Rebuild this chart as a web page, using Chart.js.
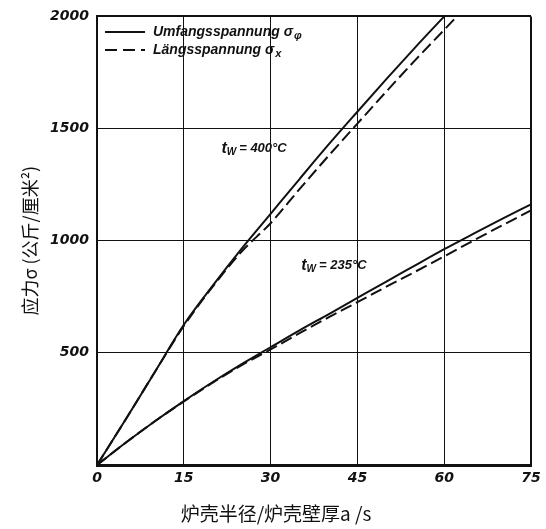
<!DOCTYPE html>
<html><head><meta charset="utf-8">
<script src="https://cdn.jsdelivr.net/npm/chart.js@4"></script>
<style>html,body{margin:0;padding:0;background:#fff}#wrap{width:546px;height:529px}</style>
</head><body><div id="wrap"><canvas id="c" width="546" height="529"></canvas></div>
<script>
// ---- data ----
const xTicks = [0, 15, 30, 45, 60, 75];
const yTicks = [0, 500, 1000, 1500, 2000];

const x400Solid = [0, 5, 10, 15, 20, 25, 30, 35, 40, 45, 50, 55, 60];
const y400Solid = [0, 205, 415, 625, 800, 965, 1120, 1275, 1428, 1575, 1720, 1862, 2000];

const x400Dashed = [0, 5, 10, 15, 20, 25, 30, 35, 40, 45, 50, 55, 60, 62.2];
const y400Dashed = [0, 205, 415, 620, 795, 952, 1078, 1230, 1378, 1522, 1665, 1805, 1940, 2000];

const x235Solid = [0, 5, 10, 15, 20, 25, 30, 35, 40, 45, 50, 55, 60, 65, 70, 75];
const y235Solid = [0, 100, 195, 285, 370, 450, 525, 600, 672, 745, 818, 890, 962, 1030, 1097, 1162];

const x235Dashed = [0, 5, 10, 15, 20, 25, 30, 35, 40, 45, 50, 55, 60, 65, 70, 75];
const y235Dashed = [0, 100, 195, 283, 367, 445, 515, 588, 658, 726, 795, 862, 930, 1000, 1068, 1135];

const seriesNames = ['Umfangsspannung σ', 'Längsspannung σ'];
const seriesSubs = ['φ', 'x'];
const curveTemps = ['400°C', '235°C'];
const curveLabelAt = [[21.5, 1410], [35.3, 890]];

const xTitle = '炉壳半径/炉壳壁厚a /s';
const yTitle = '应力σ (公斤/厘米²)';

const toPts = (xs, ys) => xs.map((x, i) => ({x, y: ys[i]}));
const INK = '#111';
const tickFont = {family: '"DejaVu Sans", sans-serif', size: 14, weight: 'bold', style: 'italic'};

const overlay = {
  id: 'overlay',
  afterDraw(chart) {
    const ctx = chart.ctx;
    const xs = chart.scales.x, ys = chart.scales.y;
    ctx.save();
    ctx.fillStyle = INK; ctx.strokeStyle = INK;
    // legend
    const ly = [32, 50];
    for (let i = 0; i < 2; i++) {
      ctx.lineWidth = 2;
      ctx.setLineDash(i === 0 ? [] : [12, 6]);
      ctx.beginPath(); ctx.moveTo(105, ly[i]); ctx.lineTo(145, ly[i]); ctx.stroke();
      ctx.setLineDash([]);
      ctx.font = 'italic bold 14px "Liberation Sans", Arial, sans-serif';
      ctx.textBaseline = 'middle'; ctx.textAlign = 'left';
      ctx.fillText(seriesNames[i], 153, ly[i]);
      const w = ctx.measureText(seriesNames[i]).width;
      ctx.font = 'italic bold 11px "Liberation Sans", Arial, sans-serif';
      ctx.fillText(seriesSubs[i], 153 + w + 1, ly[i] + 4);
    }
    // curve labels
    for (let i = 0; i < 2; i++) {
      const px = xs.getPixelForValue(curveLabelAt[i][0]);
      const py = ys.getPixelForValue(curveLabelAt[i][1]);
      ctx.textBaseline = 'middle'; ctx.textAlign = 'left';
      ctx.font = 'italic bold 16px "Liberation Sans", Arial, sans-serif';
      ctx.fillText('t', px, py);
      let w = ctx.measureText('t').width;
      ctx.font = 'italic bold 10px "Liberation Sans", Arial, sans-serif';
      ctx.fillText('W', px + w, py + 4);
      w += ctx.measureText('W').width + 3;
      ctx.font = 'italic bold 13px "Liberation Sans", Arial, sans-serif';
      ctx.fillText('= ' + curveTemps[i], px + w, py);
    }
    // x title
    ctx.font = '19px "Noto Sans CJK SC", sans-serif';
    ctx.textAlign = 'center'; ctx.textBaseline = 'middle';
    ctx.fillText(xTitle, 276, 514);
    ctx.restore();
  }
};

const common = {borderColor: INK, borderWidth: 2, pointRadius: 0, fill: false, cubicInterpolationMode: 'monotone'};

new Chart(document.getElementById('c'), {
  type: 'line',
  data: {
    datasets: [
      {...common, label: seriesNames[0] + seriesSubs[0] + ' ' + curveTemps[0], data: toPts(x400Solid, y400Solid)},
      {...common, label: seriesNames[1] + seriesSubs[1] + ' ' + curveTemps[0], data: toPts(x400Dashed, y400Dashed), borderDash: [12, 5]},
      {...common, label: seriesNames[0] + seriesSubs[0] + ' ' + curveTemps[1], data: toPts(x235Solid, y235Solid)},
      {...common, label: seriesNames[1] + seriesSubs[1] + ' ' + curveTemps[1], data: toPts(x235Dashed, y235Dashed), borderDash: [12, 5]}
    ]
  },
  options: {
    responsive: false, animation: false, devicePixelRatio: 1,
    layout: {padding: {top: 14, right: 15, left: 0, bottom: 0}},
    plugins: {legend: {display: false}, tooltip: {enabled: false}},
    scales: {
      x: {
        type: 'linear', min: 0, max: 75,
        afterBuildTicks: s => { s.ticks = xTicks.map(v => ({value: v})); },
        afterFit: s => { s.height = 64; },
        grid: {color: INK, lineWidth: c => (c.tick && c.tick.value === 75 ? 2 : 1), drawTicks: false},
        border: {display: true, color: INK, width: 3},
        ticks: {color: INK, font: tickFont, padding: 5, maxRotation: 0, autoSkip: false}
      },
      y: {
        type: 'linear', min: 0, max: 2000,
        afterBuildTicks: s => { s.ticks = yTicks.map(v => ({value: v})); },
        afterFit: s => { s.width = 97; },
        grid: {color: INK, lineWidth: c => (c.tick && c.tick.value === 2000 ? 2 : 1), drawTicks: false},
        border: {display: true, color: INK, width: 2},
        ticks: {color: INK, font: tickFont, padding: 8, callback: v => (v === 0 ? '' : String(v))},
        title: {display: true, text: yTitle, color: INK, font: {family: '"Noto Sans CJK SC", sans-serif', size: 18}, padding: {top: 19, bottom: 0}}
      }
    }
  },
  plugins: [overlay]
});
</script>
</body></html>
